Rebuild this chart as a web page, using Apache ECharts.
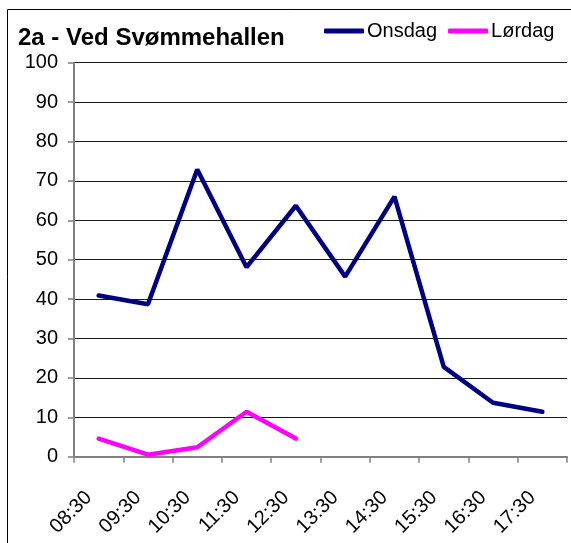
<!DOCTYPE html>
<html>
<head>
<meta charset="utf-8">
<script src="https://cdn.jsdelivr.net/npm/echarts@6/dist/echarts.min.js"></script>
<style>
  html, body { margin: 0; padding: 0; background: #fff; }
  #chart { width: 571px; height: 543px; }
</style>
</head>
<body>
<div id="chart"></div>
<script>
// tidspunkter
var categories = ['08:30', '09:30', '10:30', '11:30', '12:30', '13:30', '14:30', '15:30', '16:30', '17:30'];
// onsdag
var onsdag = [40.9, 38.7, 72.9, 48.1, 63.7, 45.7, 66.0, 22.8, 13.7, 11.4];
// lørdag (kun formiddag)
var lordag = [4.6, 0.5, 2.4, 11.4, 4.6, null, null, null, null, null];
var yTicks = { min: 0, max: 100, interval: 10 };

var font = 'Liberation Sans, Arial, sans-serif';
var chart = echarts.init(document.getElementById('chart'));

chart.setOption({
  animation: false,
  backgroundColor: '#fff',
  title: {
    text: '2a - Ved Svømmehallen',
    left: 18,
    top: 26,
    padding: 0,
    textStyle: { fontFamily: font, fontSize: 24, fontWeight: 'bold', color: '#000' }
  },
  legend: {
    left: 324,
    top: 21,
    padding: 0,
    itemWidth: 40,
    itemHeight: 5,
    itemGap: 11,
    icon: 'roundRect',
    textStyle: { fontFamily: font, fontSize: 20, color: '#000', padding: [0, 0, 0, -2] },
    data: ['Onsdag', 'Lørdag']
  },
  graphic: [{
    type: 'rect',
    shape: { x: 7.5, y: 9.5, width: 600, height: 600 },
    style: { fill: 'none', stroke: '#000', lineWidth: 1 },
    silent: true
  }],
  grid: { left: 74, right: 4, top: 62.7, bottom: 86.3 },
  xAxis: {
    type: 'category',
    data: categories,
    boundaryGap: true,
    axisLine: { lineStyle: { color: '#808080', width: 2 } },
    axisTick: { show: true, length: 6, lineStyle: { color: '#808080', width: 1.5 } },
    axisLabel: {
      rotate: 45,
      margin: 28,
      padding: [0, 14, 0, 0],
      interval: 0,
      fontFamily: font,
      fontSize: 20,
      color: '#000'
    }
  },
  yAxis: {
    type: 'value',
    min: yTicks.min,
    max: yTicks.max,
    interval: yTicks.interval,
    axisLine: { show: true, lineStyle: { color: '#808080', width: 2 } },
    axisTick: { show: true, length: 6, lineStyle: { color: '#808080', width: 1.5 } },
    axisLabel: { margin: 16, fontFamily: font, fontSize: 20, color: '#000' },
    splitLine: { show: true, lineStyle: { color: '#1a1a1a', width: 1 } }
  },
  series: [{
    name: 'Onsdag',
    type: 'line',
    data: onsdag,
    showSymbol: false,
    symbol: 'none',
    itemStyle: { color: '#000080' },
    lineStyle: { color: '#000080', width: 4.5, cap: 'round' }
  }, {
    name: 'Lørdag',
    type: 'line',
    data: lordag,
    showSymbol: false,
    symbol: 'none',
    itemStyle: { color: '#FF00FF' },
    lineStyle: { color: '#FF00FF', width: 4.5, cap: 'round' }
  }]
});
</script>
</body>
</html>
